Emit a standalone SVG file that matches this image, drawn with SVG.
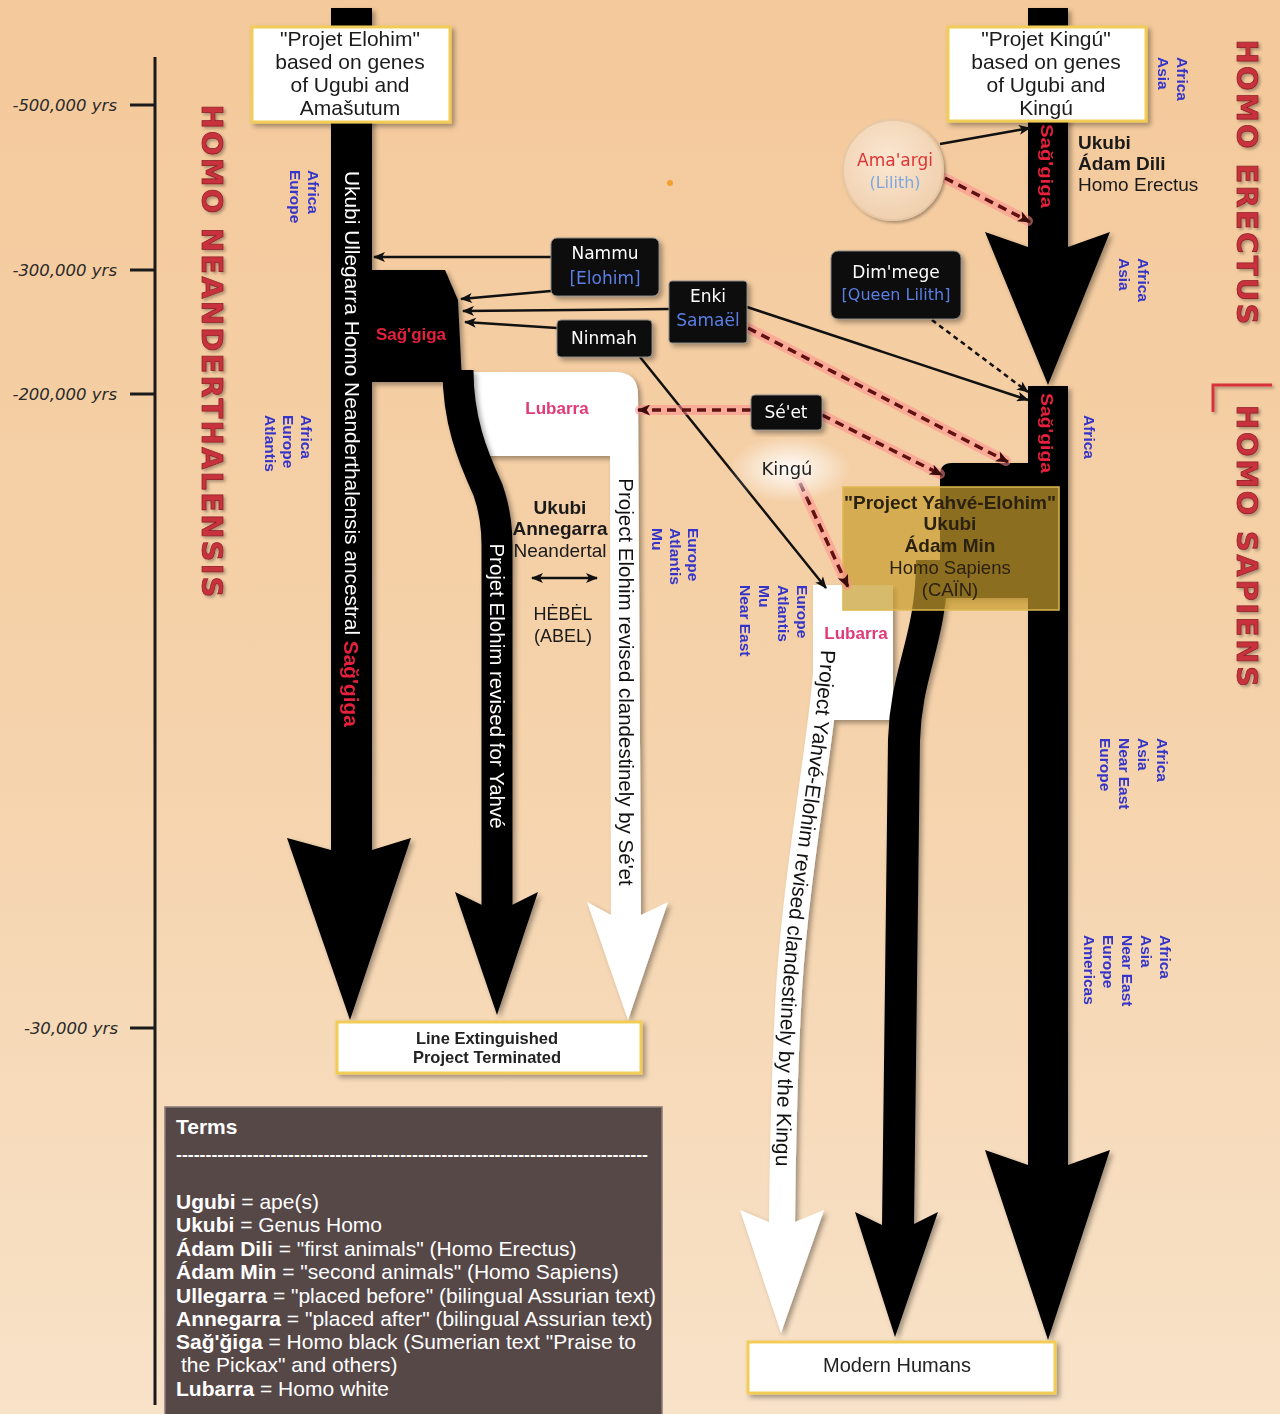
<svg xmlns="http://www.w3.org/2000/svg" width="1280" height="1414" viewBox="0 0 1280 1414">
<defs>
  <linearGradient id="bg" x1="0" y1="0" x2="0" y2="1">
    <stop offset="0" stop-color="#f4c99b"/>
    <stop offset="0.5" stop-color="#f5d2aa"/>
    <stop offset="1" stop-color="#f8e2c8"/>
  </linearGradient>
  <radialGradient id="glow">
    <stop offset="0" stop-color="#ffffff" stop-opacity="0.95"/>
    <stop offset="0.55" stop-color="#ffffff" stop-opacity="0.45"/>
    <stop offset="1" stop-color="#ffffff" stop-opacity="0"/>
  </radialGradient>
  <radialGradient id="circ" cx="0.45" cy="0.4" r="0.6">
    <stop offset="0" stop-color="#fbe8d3"/>
    <stop offset="1" stop-color="#f0d0ae"/>
  </radialGradient>
  <filter id="sh" x="-20%" y="-20%" width="140%" height="140%">
    <feDropShadow dx="3" dy="3" stdDeviation="2.5" flood-color="#000" flood-opacity="0.35"/>
  </filter>
  <filter id="shs" x="-20%" y="-20%" width="140%" height="140%">
    <feDropShadow dx="2" dy="2" stdDeviation="1.5" flood-color="#000" flood-opacity="0.3"/>
  </filter>
  <marker id="ah" viewBox="0 0 12 10" refX="11" refY="5" markerWidth="13" markerHeight="10" markerUnits="userSpaceOnUse" orient="auto-start-reverse">
    <path d="M0,0 L12,5 L0,10 L3,5 z" fill="#111"/>
  </marker>
  <marker id="ahr" viewBox="0 0 12 10" refX="11" refY="5" markerWidth="14" markerHeight="11" markerUnits="userSpaceOnUse" orient="auto">
    <path d="M0,0 L12,5 L0,10 L3,5 z" fill="#3a0c0c"/>
  </marker>
  <path id="kp" d="M 821 648 C 819 728, 790 868, 782 998 C 778 1068, 776 1128, 775 1233"/>
</defs>
<style>
  .t { font-family: "Liberation Sans", Arial, sans-serif; }
  .k { font-family: "DejaVu Sans", "Liberation Sans", sans-serif; }
  .box { fill: #ffffff; stroke: #f1cd58; stroke-width: 3; }
  .lbl { fill: #0b0b0b; stroke: #8a8a8a; stroke-width: 1; }
  .blue { fill: #3434c8; font-weight: bold; font-size: 15.5px; }
  .ln { stroke: #111; stroke-width: 2.5; fill: none; }
  .gl { stroke: #ff8c8c; stroke-opacity: 0.55; stroke-width: 10; fill: none; stroke-linecap: round; }
  .dl { stroke: #5e1212; stroke-width: 3.5; stroke-dasharray: 9 6; fill: none; }
  .title { font-family: "DejaVu Sans", sans-serif; font-weight: bold; font-size: 29px; fill: #c8323e; stroke: #8a1a22; stroke-width: 0.7; }
  .yrs { font-family: "DejaVu Sans", sans-serif; font-style: italic; font-size: 16.5px; fill: #2a2a2a; }
  .wt { fill: #ffffff; }
  .bl { fill: #5b7fe6; }
</style>

<rect width="1280" height="1414" fill="url(#bg)"/>

<!-- timeline -->
<g id="timeline" stroke="#1a1a1a" stroke-width="3">
  <line x1="155" y1="57" x2="155" y2="1405"/>
  <line x1="130" y1="105" x2="155" y2="105"/>
  <line x1="130" y1="270" x2="155" y2="270"/>
  <line x1="130" y1="394" x2="155" y2="394"/>
  <line x1="130" y1="1028" x2="155" y2="1028"/>
</g>
<g id="timeline-labels">
  <text class="yrs" x="117" y="111" text-anchor="end">-500,000 yrs</text>
  <text class="yrs" x="117" y="276" text-anchor="end">-300,000 yrs</text>
  <text class="yrs" x="117" y="400" text-anchor="end">-200,000 yrs</text>
  <text class="yrs" x="118" y="1034" text-anchor="end">-30,000 yrs</text>
</g>

<!-- titles -->
<g id="titles" filter="url(#shs)">
  <text class="title" transform="translate(212,351) rotate(90)" text-anchor="middle" dominant-baseline="central" textLength="493" lengthAdjust="spacing">HOMO NEANDERTHALENSIS</text>
  <text class="title" transform="translate(1247,182) rotate(90)" text-anchor="middle" dominant-baseline="central" textLength="285" lengthAdjust="spacing">HOMO ERECTUS</text>
  <text class="title" transform="translate(1247,546) rotate(90)" text-anchor="middle" dominant-baseline="central" textLength="282" lengthAdjust="spacing">HOMO SAPIENS</text>
  <path d="M1213 412 L1213 385 L1272 385" stroke="#d8303c" stroke-width="3" fill="none"/>
</g>

<!-- white flows -->
<g id="white-flows" filter="url(#sh)" fill="#ffffff">
  <path d="M460 372 L615 372 Q638 372 638 395 L641 915 L668 902 L628 1020 L587 902 L611 915 L610 456 L460 456 Z"/>
  <rect x="813" y="585" width="80" height="135"/>
  <path d="M 828 640 C 826 720, 797 860, 789 990 C 785 1060, 783 1120, 782 1225" stroke="#ffffff" stroke-width="26" fill="none"/>
  <path d="M769 1222 L740 1210 L781 1333 L824 1210 L795 1222 Z"/>
</g>

<!-- black flows -->
<g id="black-flows" filter="url(#sh)" fill="#000000">
  <rect x="331" y="8" width="41" height="843"/>
  <path d="M331 850 L287 838 L350 1020 L411 838 L372 850 Z"/>
  <path d="M360 270 L445 270 L458 300 L462 382 L360 382 Z"/>
  <path d="M 458 370 C 458 420, 472 455, 488 490 C 495 510, 497 525, 497 545 L 497 906" stroke="#000" stroke-width="31" fill="none"/>
  <path d="M482 905 L455 892 L497 1015 L538 892 L512 905 Z"/>
  <rect x="1028" y="8" width="40" height="240"/>
  <path d="M1028 247 L985 232 L1048 385 L1110 232 L1068 247 Z"/>
  <rect x="1028" y="386" width="40" height="780"/>
  <path d="M1028 1165 L985 1150 L1048 1340 L1110 1150 L1068 1165 Z"/>
  <path d="M952 463 L1030 463 L1030 598 L940 598 L940 475 Q940 463 952 463 Z"/>
  <path d="M 932 560 C 932 640, 906 670, 904 740 L 898 1226" stroke="#000" stroke-width="32" fill="none"/>
  <path d="M882 1225 L855 1212 L895 1337 L938 1212 L912 1225 Z"/>
</g>

<!-- texts on flows -->
<g id="flow-texts" class="t">
  <text transform="translate(352,449) rotate(90)" text-anchor="middle" dominant-baseline="central" font-size="21" fill="#ffffff" textLength="556" lengthAdjust="spacingAndGlyphs">Ukubi Ullegarra Homo Neanderthalensis ancestral <tspan fill="#e4203c" font-weight="bold">Sağ'giga</tspan></text>
  <text transform="translate(497,686) rotate(90)" text-anchor="middle" dominant-baseline="central" font-size="20.5" fill="#ffffff">Projet Elohim revised for Yahvé</text>
  <text transform="translate(626,682) rotate(90)" text-anchor="middle" dominant-baseline="central" font-size="20.5" fill="#111111">Project Elohim revised clandestinely by Sé'et</text>
  <text font-size="20.8" fill="#111111"><textPath href="#kp" startOffset="2">Project Yahvé-Elohim revised clandestinely by the Kingu</textPath></text>
  <text x="411" y="340" text-anchor="middle" font-size="17" font-weight="bold" fill="#e4203c">Sağ'giga</text>
  <text transform="translate(1046,166) rotate(90)" text-anchor="middle" dominant-baseline="central" font-size="17" font-weight="bold" fill="#e8203c" textLength="84" lengthAdjust="spacingAndGlyphs">Sağ'giga</text>
  <text transform="translate(1046,433) rotate(90)" text-anchor="middle" dominant-baseline="central" font-size="17" font-weight="bold" fill="#e8203c" textLength="80" lengthAdjust="spacingAndGlyphs">Sağ'giga</text>
  <text x="557" y="414" text-anchor="middle" font-size="17" font-weight="bold" fill="#e03a78">Lubarra</text>
  <text x="856" y="639" text-anchor="middle" font-size="17" font-weight="bold" fill="#e03a78">Lubarra</text>
</g>

<!-- Project Yahve-Elohim box -->
<g id="yahve-elohim">
  <rect x="843" y="487" width="216" height="123" fill="#c89c2e" fill-opacity="0.7" stroke="#dcb850" stroke-width="1.5"/>
  <g class="t" text-anchor="middle" fill="#2b2110">
    <text x="950" y="509" font-size="19" font-weight="bold">"Project Yahvé-Elohim"</text>
    <text x="950" y="530" font-size="19" font-weight="bold">Ukubi</text>
    <text x="950" y="552" font-size="19" font-weight="bold">Ádam Min</text>
    <text x="950" y="574" font-size="18.5">Homo Sapiens</text>
    <text x="950" y="596" font-size="18.5">(CAÏN)</text>
  </g>
</g>

<!-- region labels -->
<g id="regions" class="t">
  <text class="blue" transform="translate(308,170) rotate(90)"><tspan x="0" y="0">Africa</tspan><tspan x="0" y="18">Europe</tspan></text>
  <text class="blue" transform="translate(301,415) rotate(90)"><tspan x="0" y="0">Africa</tspan><tspan x="0" y="18">Europe</tspan><tspan x="0" y="36">Atlantis</tspan></text>
  <text class="blue" transform="translate(688,528) rotate(90)"><tspan x="0" y="0">Europe</tspan><tspan x="0" y="18">Atlantis</tspan><tspan x="0" y="36">Mu</tspan></text>
  <text class="blue" transform="translate(797,585) rotate(90)"><tspan x="0" y="0">Europe</tspan><tspan x="0" y="19">Atlantis</tspan><tspan x="0" y="38">Mu</tspan><tspan x="0" y="57">Near East</tspan></text>
  <text class="blue" transform="translate(1177,57) rotate(90)"><tspan x="0" y="0">Africa</tspan><tspan x="0" y="19">Asia</tspan></text>
  <text class="blue" transform="translate(1138,258) rotate(90)"><tspan x="0" y="0">Africa</tspan><tspan x="0" y="19">Asia</tspan></text>
  <text class="blue" transform="translate(1084,415) rotate(90)">Africa</text>
  <text class="blue" transform="translate(1157,738) rotate(90)"><tspan x="0" y="0">Africa</tspan><tspan x="0" y="19">Asia</tspan><tspan x="0" y="38">Near East</tspan><tspan x="0" y="57">Europe</tspan></text>
  <text class="blue" transform="translate(1160,935) rotate(90)"><tspan x="0" y="0">Africa</tspan><tspan x="0" y="19">Asia</tspan><tspan x="0" y="38">Near East</tspan><tspan x="0" y="57">Europe</tspan><tspan x="0" y="76">Americas</tspan></text>
</g>

<!-- Neandertal / Abel labels -->
<g id="annegarra" class="t" text-anchor="middle" fill="#1a1a1a">
  <text x="560" y="514" font-size="19" font-weight="bold">Ukubi</text>
  <text x="560" y="535" font-size="19" font-weight="bold">Annegarra</text>
  <text x="560" y="557" font-size="19">Neandertal</text>
  <text x="563" y="620" font-size="18">HĖBĖL</text>
  <text x="563" y="642" font-size="18">(ABEL)</text>
</g>

<g id="erectus-label" class="t" fill="#1a1a1a">
  <text x="1078" y="149" font-size="19" font-weight="bold">Ukubi</text>
  <text x="1078" y="170" font-size="19" font-weight="bold">Ádam Dili</text>
  <text x="1078" y="191" font-size="19">Homo Erectus</text>
</g>

<!-- connectors -->
<g id="connectors">
  <line class="ln" x1="551" y1="257" x2="374" y2="257" marker-end="url(#ah)"/>
  <line class="ln" x1="551" y1="291" x2="461" y2="299" marker-end="url(#ah)"/>
  <line class="ln" x1="669" y1="309" x2="463" y2="311" marker-end="url(#ah)"/>
  <line class="ln" x1="557" y1="328" x2="465" y2="322" marker-end="url(#ah)"/>
  <line class="ln" x1="747" y1="307" x2="1028" y2="400" marker-end="url(#ah)"/>
  <line class="ln" x1="640" y1="357" x2="826" y2="588" marker-end="url(#ah)"/>
  <line class="ln" x1="940" y1="144" x2="1030" y2="128" marker-end="url(#ah)"/>
  <line class="ln" x1="932" y1="320" x2="1028" y2="392" stroke-width="2" stroke-dasharray="5 4" marker-end="url(#ah)"/>
  <line class="ln" x1="532" y1="578" x2="597" y2="578" stroke-width="2.5" marker-start="url(#ah)" marker-end="url(#ah)"/>
  <g>
    <line class="gl" x1="945" y1="178" x2="1028" y2="221"/>
    <line class="gl" x1="748" y1="328" x2="1006" y2="461"/>
    <line class="gl" x1="751" y1="410" x2="640" y2="410"/>
    <line class="gl" x1="822" y1="415" x2="940" y2="474"/>
    <line class="gl" x1="800" y1="483" x2="847" y2="585"/>
  </g>
  <line class="dl" x1="945" y1="178" x2="1030" y2="222" marker-end="url(#ahr)"/>
  <line class="dl" x1="748" y1="328" x2="1008" y2="462" marker-end="url(#ahr)"/>
  <line class="dl" x1="751" y1="410" x2="638" y2="410" marker-end="url(#ahr)"/>
  <line class="dl" x1="822" y1="415" x2="942" y2="475" marker-end="url(#ahr)"/>
  <line class="dl" x1="800" y1="483" x2="848" y2="587" marker-end="url(#ahr)"/>
</g>

<!-- top boxes -->
<g id="projet-elohim" filter="url(#sh)">
  <rect class="box" x="252" y="27" width="198" height="95"/>
  <g class="t" font-size="21" text-anchor="middle" fill="#1a1a1a">
    <text x="350" y="46">"Projet Elohim"</text>
    <text x="350" y="69">based on genes</text>
    <text x="350" y="92">of Ugubi and</text>
    <text x="350" y="115">Amašutum</text>
  </g>
</g>
<g id="projet-kingu" filter="url(#sh)">
  <rect class="box" x="948" y="27" width="198" height="94"/>
  <g class="t" font-size="21" text-anchor="middle" fill="#1a1a1a">
    <text x="1046" y="46">"Projet Kingú"</text>
    <text x="1046" y="69">based on genes</text>
    <text x="1046" y="92">of Ugubi and</text>
    <text x="1046" y="115">Kingú</text>
  </g>
</g>

<!-- Ama'argi -->
<g id="amaargi">
  <circle cx="893" cy="170" r="50" fill="url(#circ)" stroke="#e6c7a6" stroke-width="2" filter="url(#shs)"/>
  <text class="k" x="895" y="166" text-anchor="middle" font-size="17" fill="#e03535">Ama'argi</text>
  <text class="k" x="895" y="188" text-anchor="middle" font-size="16" fill="#7ea6e0">(Lilith)</text>
</g>

<!-- black label nodes -->
<g id="nammu" filter="url(#sh)">
  <rect class="lbl" x="551" y="238" width="108" height="58" rx="6"/>
  <text class="k wt" x="605" y="259" text-anchor="middle" font-size="17">Nammu</text>
  <text class="k bl" x="605" y="284" text-anchor="middle" font-size="17">[Elohim]</text>
</g>
<g id="enki" filter="url(#sh)">
  <rect class="lbl" x="669" y="281" width="78" height="62" rx="3"/>
  <text class="k wt" x="708" y="302" text-anchor="middle" font-size="17">Enki</text>
  <text class="k bl" x="708" y="326" text-anchor="middle" font-size="17">Samaël</text>
</g>
<g id="ninmah" filter="url(#sh)">
  <rect class="lbl" x="557" y="320" width="95" height="37" rx="4"/>
  <text class="k wt" x="604" y="344" text-anchor="middle" font-size="17">Ninmah</text>
</g>
<g id="dimmege" filter="url(#sh)">
  <rect class="lbl" x="831" y="251" width="130" height="68" rx="7"/>
  <text class="k wt" x="896" y="278" text-anchor="middle" font-size="17">Dim'mege</text>
  <text class="k bl" x="896" y="300" text-anchor="middle" font-size="16">[Queen Lilith]</text>
</g>
<g id="seet" filter="url(#sh)">
  <rect class="lbl" x="751" y="395" width="71" height="35" rx="4"/>
  <text class="k wt" x="786" y="418" text-anchor="middle" font-size="17">Sé'et</text>
</g>
<g id="kingu">
  <ellipse cx="790" cy="469" rx="62" ry="34" fill="url(#glow)"/>
  <text class="k" x="787" y="475" text-anchor="middle" font-size="18" fill="#222">Kingú</text>
</g>

<circle cx="670" cy="183" r="3" fill="#f2a030"/>

<!-- bottom boxes -->
<g id="line-extinguished" filter="url(#sh)">
  <rect class="box" x="337" y="1022" width="304" height="51"/>
  <text class="t" x="487" y="1044" text-anchor="middle" font-size="16.5" font-weight="bold" fill="#222">Line Extinguished</text>
  <text class="t" x="487" y="1063" text-anchor="middle" font-size="16.5" font-weight="bold" fill="#222">Project Terminated</text>
</g>
<g id="modern-humans" filter="url(#sh)">
  <rect class="box" x="748" y="1342" width="307" height="51"/>
  <text class="t" x="897" y="1372" text-anchor="middle" font-size="20" fill="#222">Modern Humans</text>
</g>

<!-- terms -->
<g id="terms" class="t">
  <rect x="165" y="1107" width="497" height="312" fill="#574848" stroke="#8a7a78" stroke-width="1.5"/>
  <g fill="#ffffff" font-size="21">
    <text x="176" y="1134" font-size="21" font-weight="bold">Terms</text>
    <text x="176" y="1160" font-size="16" font-weight="bold" textLength="472" lengthAdjust="spacingAndGlyphs">--------------------------------------------------------------------------------</text>
    <text x="176" y="1209"><tspan font-weight="bold">Ugubi</tspan> = ape(s)</text>
    <text x="176" y="1232"><tspan font-weight="bold">Ukubi</tspan> = Genus Homo</text>
    <text x="176" y="1256"><tspan font-weight="bold">Ádam Dili</tspan> = "first animals" (Homo Erectus)</text>
    <text x="176" y="1279"><tspan font-weight="bold">Ádam Min</tspan> = "second animals" (Homo Sapiens)</text>
    <text x="176" y="1303"><tspan font-weight="bold">Ullegarra</tspan> = "placed before" (bilingual Assurian text)</text>
    <text x="176" y="1326"><tspan font-weight="bold">Annegarra</tspan> = "placed after" (bilingual Assurian text)</text>
    <text x="176" y="1349"><tspan font-weight="bold">Sağ'ğiga</tspan> = Homo black (Sumerian text "Praise to</text>
    <text x="181" y="1372">the Pickax" and others)</text>
    <text x="176" y="1396"><tspan font-weight="bold">Lubarra</tspan> = Homo white</text>
  </g>
</g>
</svg>
